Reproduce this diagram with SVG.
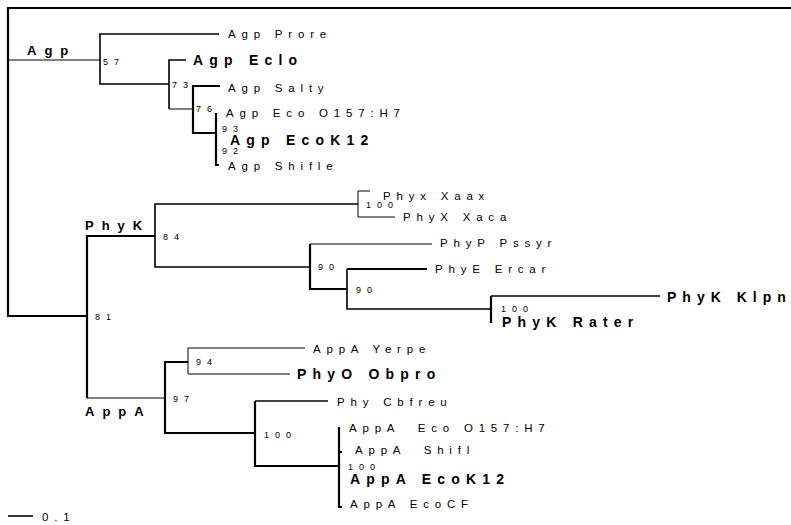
<svg xmlns="http://www.w3.org/2000/svg" width="791" height="525" viewBox="0 0 791 525">
  <style>
    text { font-family: "Liberation Sans", Arial, sans-serif; fill: #000; }
    .leaf { font-size: 11.5px; letter-spacing: 5.8px; }
    .leafb { font-size: 14px; font-weight: bold; letter-spacing: 6.2px; }
    .clade { font-size: 13px; font-weight: bold; letter-spacing: 8px; }
    .bs { font-size: 9px; letter-spacing: 6px; }
    .w1 { fill: none; stroke: #000; stroke-width: 1; }
    .w2 { fill: none; stroke: #000; stroke-width: 1.6; }
    .w3 { fill: none; stroke: #000; stroke-width: 2.2; }
  </style>
  <rect width="791" height="525" fill="#fff"/>

  <!-- branches -->
  <g id="connectors">
    <path class="w3" d="M791,8 H8 V316 H87"/>
    <path class="w1" d="M8,60 H100"/>
    <path class="w2" d="M219,34 H100 V84 H169"/>
    <path class="w2" d="M186,60 H169 V109"/>
    <path class="w1" d="M169,109 H193"/>
    <path class="w3" d="M220,86 H193 V133 H216"/>
    <path class="w3" d="M216,113 V165 H219"/>
    <path class="w3" d="M87,398 V236 H155"/>
    <path class="w1" d="M87,398 H165"/>
    <path class="w2" d="M358,204 H155 V267 H310"/>
    <path class="w1" d="M370,191 H358 V217 H395"/>
    <path class="w1" d="M432,244 H310"/>
    <path class="w3" d="M310,244 V289 H347"/>
    <path class="w3" d="M427,269 H347"/>
    <path class="w2" d="M347,269 V309 H491"/>
    <path class="w2" d="M660,296 H491"/>
    <path class="w3" d="M491,296 V323"/>
    <path class="w3" d="M188,362 H165 V433 H255"/>
    <path class="w1" d="M305,348 H188 V374 H290"/>
    <path class="w2" d="M328,401 H255"/>
    <path class="w3" d="M255,401 V466 H339"/>
    <path class="w3" d="M339,427 V507 H342 M339,452 H342"/>
    <path class="w2" d="M8,516 H33"/>
  </g>

  <!-- clade names -->
  <g id="clade-agp"><text class="clade" x="27" y="55">Agp</text></g>
  <g id="clade-phyk"><text class="clade" x="85" y="230">PhyK</text></g>
  <g id="clade-appa"><text class="clade" x="85" y="416">AppA</text></g>

  <!-- internal nodes with bootstrap values -->
  <g id="n57"><text class="bs" x="103" y="65">57</text></g>
  <g id="n73"><text class="bs" x="172" y="88">73</text></g>
  <g id="n76"><text class="bs" x="196" y="112">76</text></g>
  <g id="n93"><text class="bs" x="222" y="132">93</text></g>
  <g id="n92"><text class="bs" x="222" y="154">92</text></g>
  <g id="n81"><text class="bs" x="95" y="320">81</text></g>
  <g id="n84"><text class="bs" x="163" y="240">84</text></g>
  <g id="n100x"><text class="bs" x="366" y="208">100</text></g>
  <g id="n90a"><text class="bs" x="318" y="270">90</text></g>
  <g id="n90b"><text class="bs" x="356" y="293">90</text></g>
  <g id="n100k"><text class="bs" x="501" y="312">100</text></g>
  <g id="n97"><text class="bs" x="173" y="402">97</text></g>
  <g id="n94"><text class="bs" x="196" y="365">94</text></g>
  <g id="n100c"><text class="bs" x="264" y="438">100</text></g>
  <g id="n100e"><text class="bs" x="348" y="470">100</text></g>

  <!-- leaves -->
  <g id="agp-prore"><text class="leaf" x="228" y="38">Agp Prore</text></g>
  <g id="agp-eclo"><text class="leafb" x="193" y="65">Agp Eclo</text></g>
  <g id="agp-salty"><text class="leaf" x="228" y="92">Agp Salty</text></g>
  <g id="agp-eco-o157"><text class="leaf" x="226" y="117">Agp Eco O157:H7</text></g>
  <g id="agp-ecok12"><text class="leafb" x="230" y="145">Agp EcoK12</text></g>
  <g id="agp-shifle"><text class="leaf" x="228" y="170">Agp Shifle</text></g>
  <g id="phyx-xaax"><text class="leaf" x="383" y="200">Phyx Xaax</text></g>
  <g id="phyx-xaca"><text class="leaf" x="403" y="221">PhyX Xaca</text></g>
  <g id="phyp-pssyr"><text class="leaf" x="440" y="247">PhyP Pssyr</text></g>
  <g id="phye-ercar"><text class="leaf" x="435" y="273">PhyE Ercar</text></g>
  <g id="phyk-klpn"><text class="leafb" x="667" y="302" style="letter-spacing:6px">PhyK Klpn</text></g>
  <g id="phyk-rater"><text class="leafb" x="502" y="327">PhyK Rater</text></g>
  <g id="appa-yerpe"><text class="leaf" x="313" y="353">AppA Yerpe</text></g>
  <g id="phyo-obpro"><text class="leafb" x="297" y="379">PhyO Obpro</text></g>
  <g id="phy-cbfreu"><text class="leaf" x="337" y="406">Phy Cbfreu</text></g>
  <g id="appa-eco-o157"><text class="leaf" x="349" y="432" xml:space="preserve">AppA  Eco O157:H7</text></g>
  <g id="appa-shifl"><text class="leaf" x="355" y="454" xml:space="preserve">AppA  Shifl</text></g>
  <g id="appa-ecok12"><text class="leafb" x="350" y="484">AppA EcoK12</text></g>
  <g id="appa-ecocf"><text class="leaf" x="350" y="508">AppA EcoCF</text></g>

  <!-- scale -->
  <g id="scale"><text class="leaf" x="42" y="521">0.1</text></g>
</svg>
